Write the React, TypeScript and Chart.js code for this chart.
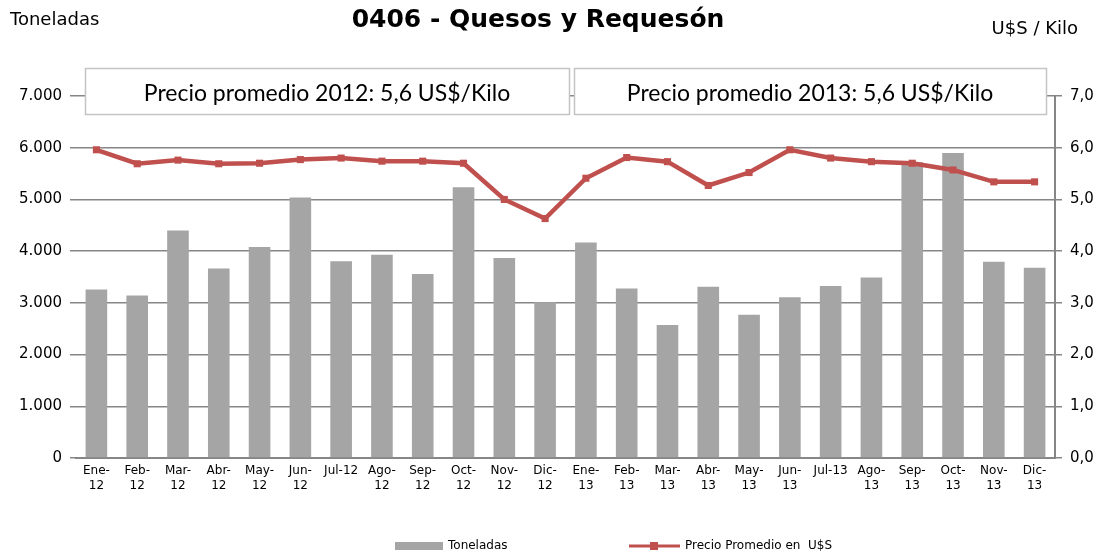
import React, { useEffect, useRef } from "react";
import { Chart, registerables } from "chart.js";

Chart.register(...registerables);

const categories: string[][] = [
  ["Ene-", "12"], ["Feb-", "12"], ["Mar-", "12"], ["Abr-", "12"], ["May-", "12"], ["Jun-", "12"],
  ["Jul-12"], ["Ago-", "12"], ["Sep-", "12"], ["Oct-", "12"], ["Nov-", "12"], ["Dic-", "12"],
  ["Ene-", "13"], ["Feb-", "13"], ["Mar-", "13"], ["Abr-", "13"], ["May-", "13"], ["Jun-", "13"],
  ["Jul-13"], ["Ago-", "13"], ["Sep-", "13"], ["Oct-", "13"], ["Nov-", "13"], ["Dic-", "13"],
];

const toneladas: number[] = [
  3260, 3140, 4400, 3665, 4080, 5035, 3805, 3930, 3560, 5235, 3865, 3010,
  4165, 3280, 2570, 3310, 2770, 3110, 3325, 3490, 5720, 5900, 3795, 3680,
];

const precio: number[] = [
  5.96, 5.69, 5.76, 5.69, 5.70, 5.77, 5.80, 5.74, 5.74, 5.70, 5.00, 4.63,
  5.41, 5.81, 5.73, 5.27, 5.52, 5.96, 5.80, 5.73, 5.70, 5.57, 5.34, 5.34,
];

const titleText = "0406 - Quesos y Requesón";
const leftUnit = "Toneladas";
const rightUnit = "U$S / Kilo";
const boxTexts: string[] = ["Precio promedio 2012: 5,6 US$/Kilo", "Precio promedio 2013: 5,6 US$/Kilo"];
const legendBar = "Toneladas";
const legendLine = "Precio Promedio en  U$S";

const BAR_COLOR = "#A5A5A5";
const LINE_COLOR = "#C0504D";
const GRID_COLOR = "#868686";

const overlayPlugin = {
  id: "overlay",
  beforeDatasetsDraw(chart: any) {
    const ctx = chart.ctx;
    const boxes = [
      [85, 569],
      [574, 1046],
    ];
    ctx.save();
    boxes.forEach((b, i) => {
      const top = 68, h = 46;
      ctx.fillStyle = "#ffffff";
      ctx.fillRect(b[0], top, b[1] - b[0], h);
      ctx.strokeStyle = "#C4C4C4";
      ctx.lineWidth = 1.5;
      ctx.strokeRect(b[0] + 0.5, top + 0.5, b[1] - b[0], h);
      ctx.fillStyle = "#000";
      ctx.font = "23px Lato";
      ctx.textAlign = "center";
      ctx.textBaseline = "alphabetic";
      ctx.fillText(boxTexts[i], (b[0] + b[1]) / 2, 101);
    });
    ctx.restore();
  },
  afterDraw(chart: any) {
    const ctx = chart.ctx;
    ctx.save();
    ctx.fillStyle = "#000";
    ctx.textBaseline = "middle";
    ctx.font = "18px 'DejaVu Sans'";
    ctx.textAlign = "left";
    ctx.fillText(leftUnit, 10, 20);
    ctx.textAlign = "right";
    ctx.fillText(rightUnit, 1078, 29);
    ctx.font = "bold 25px 'DejaVu Sans'";
    ctx.textAlign = "center";
    ctx.fillText(titleText, 538, 20);

    // legend
    const ly = 546;
    ctx.fillStyle = BAR_COLOR;
    ctx.fillRect(395, ly - 4, 48, 8);
    ctx.fillStyle = "#000";
    ctx.font = "12px 'DejaVu Sans'";
    ctx.textAlign = "left";
    ctx.fillText(legendBar, 448, ly);
    ctx.strokeStyle = LINE_COLOR;
    ctx.lineWidth = 3;
    ctx.beginPath();
    ctx.moveTo(629, ly);
    ctx.lineTo(680, ly);
    ctx.stroke();
    ctx.fillStyle = LINE_COLOR;
    ctx.fillRect(650, ly - 4, 8, 8);
    ctx.fillStyle = "#000";
    ctx.fillText(legendLine, 685, ly);
    ctx.restore();
  },
};

export default function App() {
  const ref = useRef<HTMLCanvasElement | null>(null);
  useEffect(() => {
    document.body.style.margin = "0";
    const canvas = ref.current;
    if (!canvas) return;
    const chart = new Chart(canvas, {
      type: "bar",
      data: {
        labels: categories as any,
        datasets: [
          {
            type: "line",
            label: legendLine,
            data: precio,
            yAxisID: "y1",
            borderColor: LINE_COLOR,
            backgroundColor: LINE_COLOR,
            borderWidth: 4.5,
            pointStyle: "rect",
            pointRadius: 5,
            pointBackgroundColor: LINE_COLOR,
            pointBorderColor: LINE_COLOR,
            pointBorderWidth: 0,
            tension: 0,
            order: 1,
          } as any,
          {
            type: "bar",
            label: legendBar,
            data: toneladas,
            yAxisID: "y",
            backgroundColor: BAR_COLOR,
            borderWidth: 0,
            barPercentage: 0.53,
            categoryPercentage: 1,
            order: 2,
          },
        ],
      },
      options: {
        responsive: false,
        animation: false,
        layout: { padding: { top: 96, bottom: 56, left: 0, right: 0 } },
        plugins: {
          legend: { display: false },
          title: { display: false },
          tooltip: { enabled: false },
        },
        scales: {
          x: {
            grid: { display: false, drawTicks: false },
            border: { display: true, color: GRID_COLOR, width: 2 },
            ticks: {
              color: "#000",
              font: { family: "'DejaVu Sans'", size: 12, lineHeight: 1.25 },
              padding: 5,
              maxRotation: 0,
              minRotation: 0,
              autoSkip: false,
            },
            afterFit: (s: any) => {
              s.height = 40;
            },
          },
          y: {
            position: "left",
            min: 0,
            max: 7000,
            grid: { color: GRID_COLOR, lineWidth: 1.5, tickLength: 6, tickColor: GRID_COLOR },
            border: { display: false },
            ticks: {
              stepSize: 1000,
              color: "#000",
              padding: 8,
              font: { family: "'DejaVu Sans'", size: 15 },
              callback: (v: any) => Number(v).toLocaleString("de-DE"),
            },
            afterFit: (s: any) => {
              s.width = 76;
            },
          },
          y1: {
            position: "right",
            min: 0,
            max: 7,
            grid: { drawOnChartArea: false, tickLength: 7, tickColor: GRID_COLOR, lineWidth: 1.5 },
            border: { display: true, color: GRID_COLOR, width: 2 },
            ticks: {
              stepSize: 1,
              color: "#000",
              padding: 8,
              font: { family: "'DejaVu Sans'", size: 15 },
              callback: (v: any) => Number(v).toFixed(1).replace(".", ","),
            },
            afterFit: (s: any) => {
              s.width = 42;
            },
          },
        },
      },
      plugins: [overlayPlugin],
    });
    return () => chart.destroy();
  }, []);
  return (
    <div style={{ width: 1097, height: 554 }}>
      <canvas ref={ref} width={1097} height={554} style={{ display: "block" }} />
    </div>
  );
}
